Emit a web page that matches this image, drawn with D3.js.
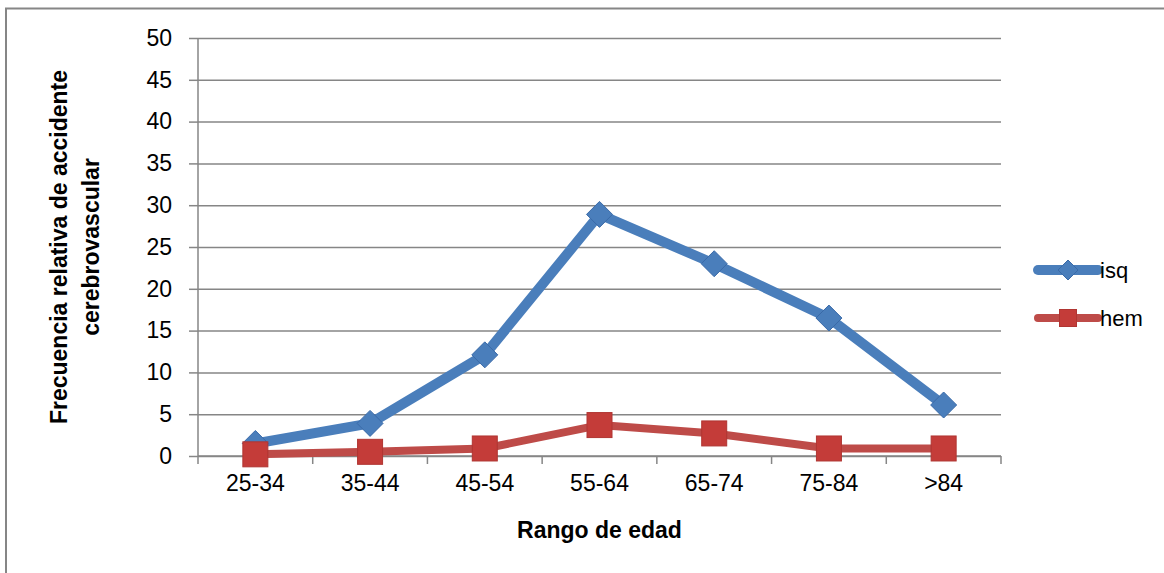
<!DOCTYPE html>
<html>
<head>
<meta charset="utf-8">
<script src="https://cdn.jsdelivr.net/npm/d3@7/dist/d3.min.js"></script>
<style>
  html, body { margin: 0; padding: 0; background: #fff; }
  svg { display: block; }
</style>
</head>
<body>
<div id="chart"></div>
<script>
  // ── Data ───────────────────────────────────────────────────
  var categories = ["25-34", "35-44", "45-54", "55-64", "65-74", "75-84", ">84"];
  var isq = [1.5, 3.9, 12.1, 28.9, 23.0, 16.5, 6.1];
  var hem = [0.2, 0.5, 0.9, 3.7, 2.7, 0.9, 0.9];
  var yTicks = [0, 5, 10, 15, 20, 25, 30, 35, 40, 45, 50];

  var series = [
    { name: "isq", values: isq, color: "#4a7ebb", width: 10, marker: "diamond" },
    { name: "hem", values: hem, color: "#be4b48", width: 8, marker: "square" }
  ];

  var W = 1164, H = 573;
  var margin = { top: 38, right: 163, bottom: 117, left: 198 };
  var innerW = W - margin.left - margin.right;
  var innerH = H - margin.top - margin.bottom;
  var font = "'Liberation Sans', Arial, sans-serif";

  var svg = d3.select("#chart").append("svg")
    .attr("width", W).attr("height", H)
    .attr("font-family", font);

  // outer chart border
  svg.append("rect")
    .attr("x", 6).attr("y", 8.5)
    .attr("width", W + 20).attr("height", H + 20)
    .attr("fill", "none").attr("stroke", "#868686").attr("stroke-width", 2);

  var g = svg.append("g")
    .attr("transform", "translate(" + margin.left + "," + margin.top + ")");

  var x = d3.scaleBand().domain(categories).range([0, innerW]);
  var y = d3.scaleLinear().domain([0, 50]).range([innerH, 0]);

  // grid
  g.append("g")
    .call(d3.axisLeft(y).tickValues(yTicks).tickSize(-innerW).tickFormat(""))
    .call(function (s) {
      s.select(".domain").remove();
      s.selectAll(".tick line").attr("stroke", "#868686").attr("stroke-width", 1.5);
    });

  // y axis
  var yAxis = g.append("g")
    .call(d3.axisLeft(y).tickValues(yTicks).tickSize(9).tickPadding(17));
  yAxis.select(".domain").attr("stroke", "#868686").attr("stroke-width", 1.5)
    .attr("d", "M0," + innerH + "V0");
  yAxis.selectAll(".tick line").attr("stroke", "#868686").attr("stroke-width", 1.5);
  yAxis.selectAll("text").attr("font-size", 23).attr("fill", "#000")
    .attr("font-family", font);

  // x axis (ticks at category boundaries)
  var xAxis = g.append("g").attr("transform", "translate(0," + innerH + ")")
    .call(d3.axisBottom(x).tickSize(0).tickPadding(19));
  xAxis.select(".domain").attr("stroke", "#868686").attr("stroke-width", 1.5)
    .attr("d", "M0,0H" + innerW);
  xAxis.selectAll("text").attr("font-size", 23).attr("fill", "#000")
    .attr("font-family", font);
  var bounds = categories.map(function (c) { return x(c); }).concat([innerW]);
  g.append("g").selectAll("line").data(bounds).join("line")
    .attr("x1", function (d) { return d; }).attr("x2", function (d) { return d; })
    .attr("y1", innerH).attr("y2", innerH + 8)
    .attr("stroke", "#868686").attr("stroke-width", 1.5);

  // lines + markers
  var line = d3.line()
    .x(function (d, i) { return x(categories[i]) + x.bandwidth() / 2; })
    .y(function (d) { return y(d); });

  function drawMarker(sel, type, color, size) {
    if (type === "diamond") {
      sel.append("path")
        .attr("d", "M0," + (-size / 2) + "L" + (size / 2) + ",0L0," + (size / 2) + "L" + (-size / 2) + ",0Z")
        .attr("fill", color).attr("stroke", "#3a6aa8").attr("stroke-width", 1);
    } else {
      sel.append("rect")
        .attr("x", -size / 2).attr("y", -size / 2)
        .attr("width", size).attr("height", size)
        .attr("fill", "#c43c39").attr("stroke", "#b03532").attr("stroke-width", 1);
    }
  }

  series.forEach(function (s) {
    g.append("path").datum(s.values)
      .attr("d", line)
      .attr("fill", "none")
      .attr("stroke", s.color)
      .attr("stroke-width", s.width)
      .attr("stroke-linejoin", "round")
      .attr("stroke-linecap", "round");
  });
  series.forEach(function (s) {
    s.values.forEach(function (v, i) {
      var m = g.append("g").attr("transform",
        "translate(" + (x(categories[i]) + x.bandwidth() / 2) + "," + y(v) + ")");
      drawMarker(m, s.marker, s.color, s.marker === "diamond" ? 26 : 25);
    });
  });

  // axis titles
  svg.append("text")
    .attr("x", margin.left + innerW / 2).attr("y", 538)
    .attr("text-anchor", "middle")
    .attr("font-size", 23).attr("font-weight", "bold")
    .text("Rango de edad");

  var yt = svg.append("text")
    .attr("transform", "translate(67,247) rotate(-90)")
    .attr("text-anchor", "middle")
    .attr("font-size", 23).attr("font-weight", "bold");
  yt.append("tspan").attr("x", 0).attr("y", 0).text("Frecuencia relativa de accidente");
  yt.append("tspan").attr("x", 0).attr("y", 32).text("cerebrovascular");

  // legend
  var legend = svg.append("g").attr("transform", "translate(1038,270)");
  series.forEach(function (s, i) {
    var item = legend.append("g").attr("transform", "translate(0," + (i * 48) + ")");
    item.append("line")
      .attr("x1", 0).attr("x2", 60)
      .attr("stroke", s.color).attr("stroke-width", s.width)
      .attr("stroke-linecap", "round");
    var m = item.append("g").attr("transform", "translate(30,0)");
    drawMarker(m, s.marker, s.color, s.marker === "diamond" ? 20 : 17);
    item.append("text")
      .attr("x", 62).attr("y", 8)
      .attr("font-size", 22).attr("fill", "#000")
      .text(s.name);
  });
</script>
</body>
</html>
